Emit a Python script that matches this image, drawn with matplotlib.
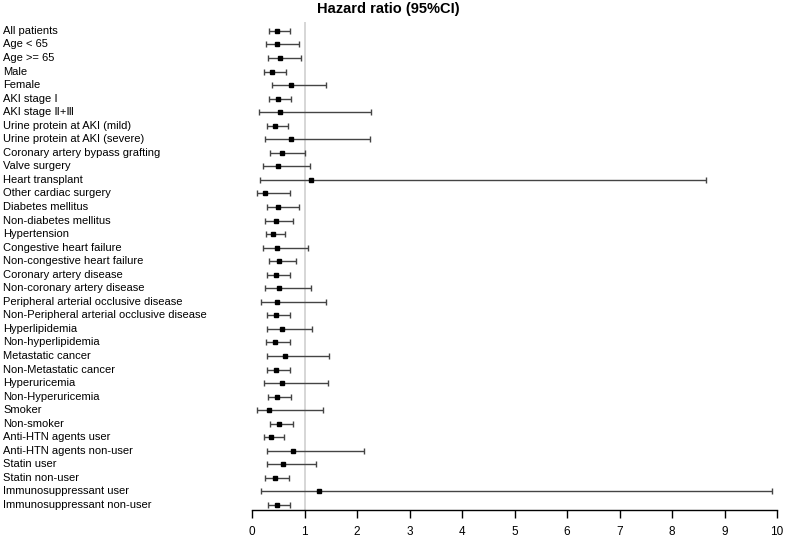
import numpy as np
import matplotlib
matplotlib.use("Agg")
import matplotlib.pyplot as plt
from matplotlib.transforms import blended_transform_factory

plt.rcParams['font.family'] = ['Liberation Sans', 'DejaVu Sans']

# subgroups, top to bottom
labels = [
    "All patients", "Age < 65", "Age >= 65", "Male", "Female",
    "AKI stage \u2160", "AKI stage \u2161+\u2162",
    "Urine protein at AKI (mild)", "Urine protein at AKI (severe)",
    "Coronary artery bypass grafting", "Valve surgery", "Heart transplant",
    "Other cardiac surgery", "Diabetes mellitus", "Non-diabetes mellitus",
    "Hypertension", "Congestive heart failure", "Non-congestive heart failure",
    "Coronary artery disease", "Non-coronary artery disease",
    "Peripheral arterial occlusive disease",
    "Non-Peripheral arterial occlusive disease", "Hyperlipidemia",
    "Non-hyperlipidemia", "Metastatic cancer", "Non-Metastatic cancer",
    "Hyperuricemia", "Non-Hyperuricemia", "Smoker", "Non-smoker",
    "Anti-HTN agents user", "Anti-HTN agents non-user", "Statin user",
    "Statin non-user", "Immunosuppressant user", "Immunosuppressant non-user",
]
hr = [0.48, 0.48, 0.53, 0.38, 0.74, 0.49, 0.54, 0.43, 0.74,
      0.58, 0.49, 1.13, 0.25, 0.50, 0.45, 0.40, 0.47, 0.51,
      0.46, 0.52, 0.48, 0.46, 0.57, 0.43, 0.63, 0.46, 0.58,
      0.48, 0.32, 0.51, 0.36, 0.79, 0.59, 0.43, 1.28, 0.47]
ci_low = [0.32, 0.27, 0.30, 0.23, 0.38, 0.32, 0.14, 0.28, 0.24,
          0.34, 0.21, 0.15, 0.10, 0.28, 0.25, 0.27, 0.20, 0.32,
          0.28, 0.24, 0.17, 0.29, 0.28, 0.27, 0.28, 0.28, 0.23,
          0.30, 0.09, 0.34, 0.23, 0.29, 0.29, 0.25, 0.17, 0.30]
ci_high = [0.72, 0.90, 0.93, 0.65, 1.40, 0.75, 2.27, 0.69, 2.25,
           1.01, 1.11, 8.64, 0.72, 0.90, 0.79, 0.62, 1.06, 0.83,
           0.73, 1.12, 1.41, 0.72, 1.15, 0.72, 1.47, 0.72, 1.45,
           0.75, 1.35, 0.79, 0.60, 2.13, 1.21, 0.71, 9.90, 0.72]

hr = np.array(hr)
err = np.vstack([hr - np.array(ci_low), np.array(ci_high) - hr])
pos = np.arange(len(labels))

fig = plt.figure(figsize=(7.87, 5.39), dpi=100)
ax = fig.add_axes([252 / 787, 29 / 539, 525 / 787, 488 / 539])

ax.axvline(1, color='#d0d0d0', lw=1.2, zorder=0)
ax.errorbar(hr, pos, xerr=err, fmt='none', ecolor='#444444', elinewidth=1.0,
            capsize=2.3, capthick=1.0)
ax.plot(hr, pos, 's', color='black', markersize=3.4, zorder=3)

ax.set_xlim(0, 10)
ax.set_ylim(len(labels) - 1 + 0.37, -0.66)
ax.set_xticks(range(11))
ax.set_yticks([])
for s in ['top', 'right', 'left']:
    ax.spines[s].set_visible(False)
ax.spines['bottom'].set_bounds(0, 10)
ax.spines['bottom'].set_linewidth(1.0)
ax.tick_params(axis='x', length=5.5, width=1.0, labelsize=8.5, pad=6)
ax.margins(x=0)

tr = blended_transform_factory(fig.transFigure, ax.transData)
for i, lab in enumerate(labels):
    ax.text(3 / 787, i, lab, transform=tr, ha='left', va='center',
            fontsize=8, clip_on=False)

fig.text(388 / 787, 1 - 9 / 539, "Hazard ratio (95%CI)", ha='center',
         va='center', fontsize=10.5, fontweight='bold')

fig.savefig('out.png', dpi=100)
